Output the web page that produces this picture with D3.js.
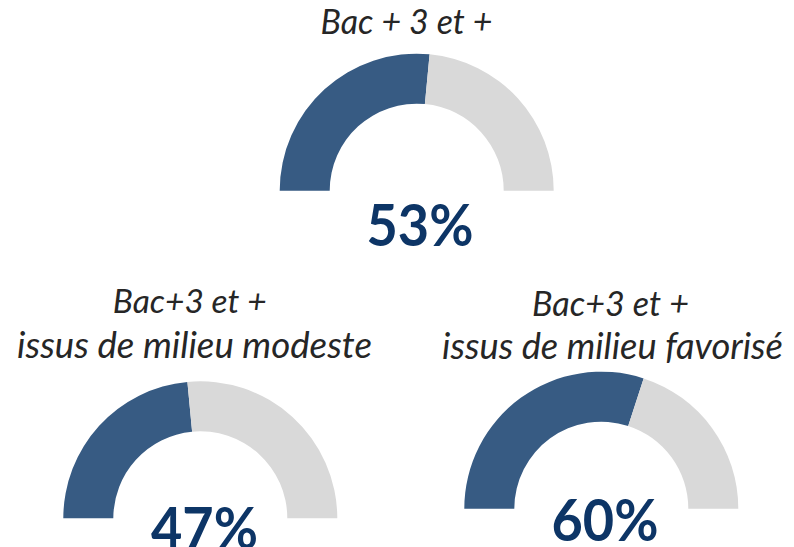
<!DOCTYPE html>
<html>
<head>
<meta charset="utf-8">
<script src="https://cdn.jsdelivr.net/npm/d3@7"></script>
<style>
  html, body { margin: 0; padding: 0; background: #ffffff; }
  svg { display: block; }
</style>
</head>
<body>
<svg id="chart" width="794" height="547"></svg>
<script>
// ---- Data ----
const categories = ["Bac + 3 et +", "Bac+3 et + / issus de milieu modeste", "Bac+3 et + / issus de milieu favorisé"];
const titleLines = [
  ["Bac + 3 et +"],
  ["Bac+3 et +", "issus de milieu modeste"],
  ["Bac+3 et +", "issus de milieu favorisé"]
];
const values = [53, 47, 60];   // share in %
const valueLabels = ["53%", "47%", "60%"];

// ---- Layout (presentation only) ----
const layout = [
  { cx: 416.7, cy: 190.7, titleY: [34], titleX: [406.5], titleW: [172], pctX: 420, pctY: 245.5 },
  { cx: 200.3, cy: 518.3, titleY: [313, 358], titleX: [189.7, 194.5], titleW: [154, 355], pctX: 204.5, pctY: 549 },
  { cx: 601.3, cy: 508.7, titleY: [316, 359], titleX: [610.5, 612.5], titleW: [157, 341], pctX: 605, pctY: 540.5 }
];
const pctW = 107;
const outerR = 137, innerR = 87;
const colorFill = "#375b83", colorRest = "#d9d9d9";
const pctColor = "#0d3566", titleColor = "#262626";

const svg = d3.select("#chart");
const angle = d3.scaleLinear().domain([0, 100]).range([-Math.PI / 2, Math.PI / 2]);
const arc = d3.arc().innerRadius(innerR).outerRadius(outerR);

function fit(sel, target) {
  const w = sel.node().getBBox().width;
  const fs = parseFloat(sel.attr("font-size"));
  if (w > 0) sel.attr("font-size", fs * target / w);
}

values.forEach((v, i) => {
  const L = layout[i];
  const g = svg.append("g").attr("transform", `translate(${L.cx},${L.cy})`);
  g.append("path")
    .attr("d", arc({ startAngle: angle(0), endAngle: angle(v) }))
    .attr("fill", colorFill);
  g.append("path")
    .attr("d", arc({ startAngle: angle(v), endAngle: angle(100) }))
    .attr("fill", colorRest);

  titleLines[i].forEach((t, j) => {
    const tx = svg.append("text")
      .attr("x", L.titleX[j]).attr("y", L.titleY[j])
      .attr("text-anchor", "middle")
      .attr("font-family", "Lato, 'Open Sans', sans-serif")
      .attr("font-style", "italic")
      .attr("font-size", 34)
      .attr("fill", titleColor)
      .text(t);
    fit(tx, L.titleW[j]);
  });

  svg.append("text")
    .attr("x", L.pctX).attr("y", L.pctY)
    .attr("text-anchor", "middle")
    .attr("font-family", "Lato, 'Open Sans', sans-serif")
    .attr("font-weight", "bold")
    .attr("font-size", 58)
    .attr("textLength", pctW)
    .attr("lengthAdjust", "spacingAndGlyphs")
    .attr("fill", pctColor)
    .text(valueLabels[i]);
});
</script>
</body>
</html>
